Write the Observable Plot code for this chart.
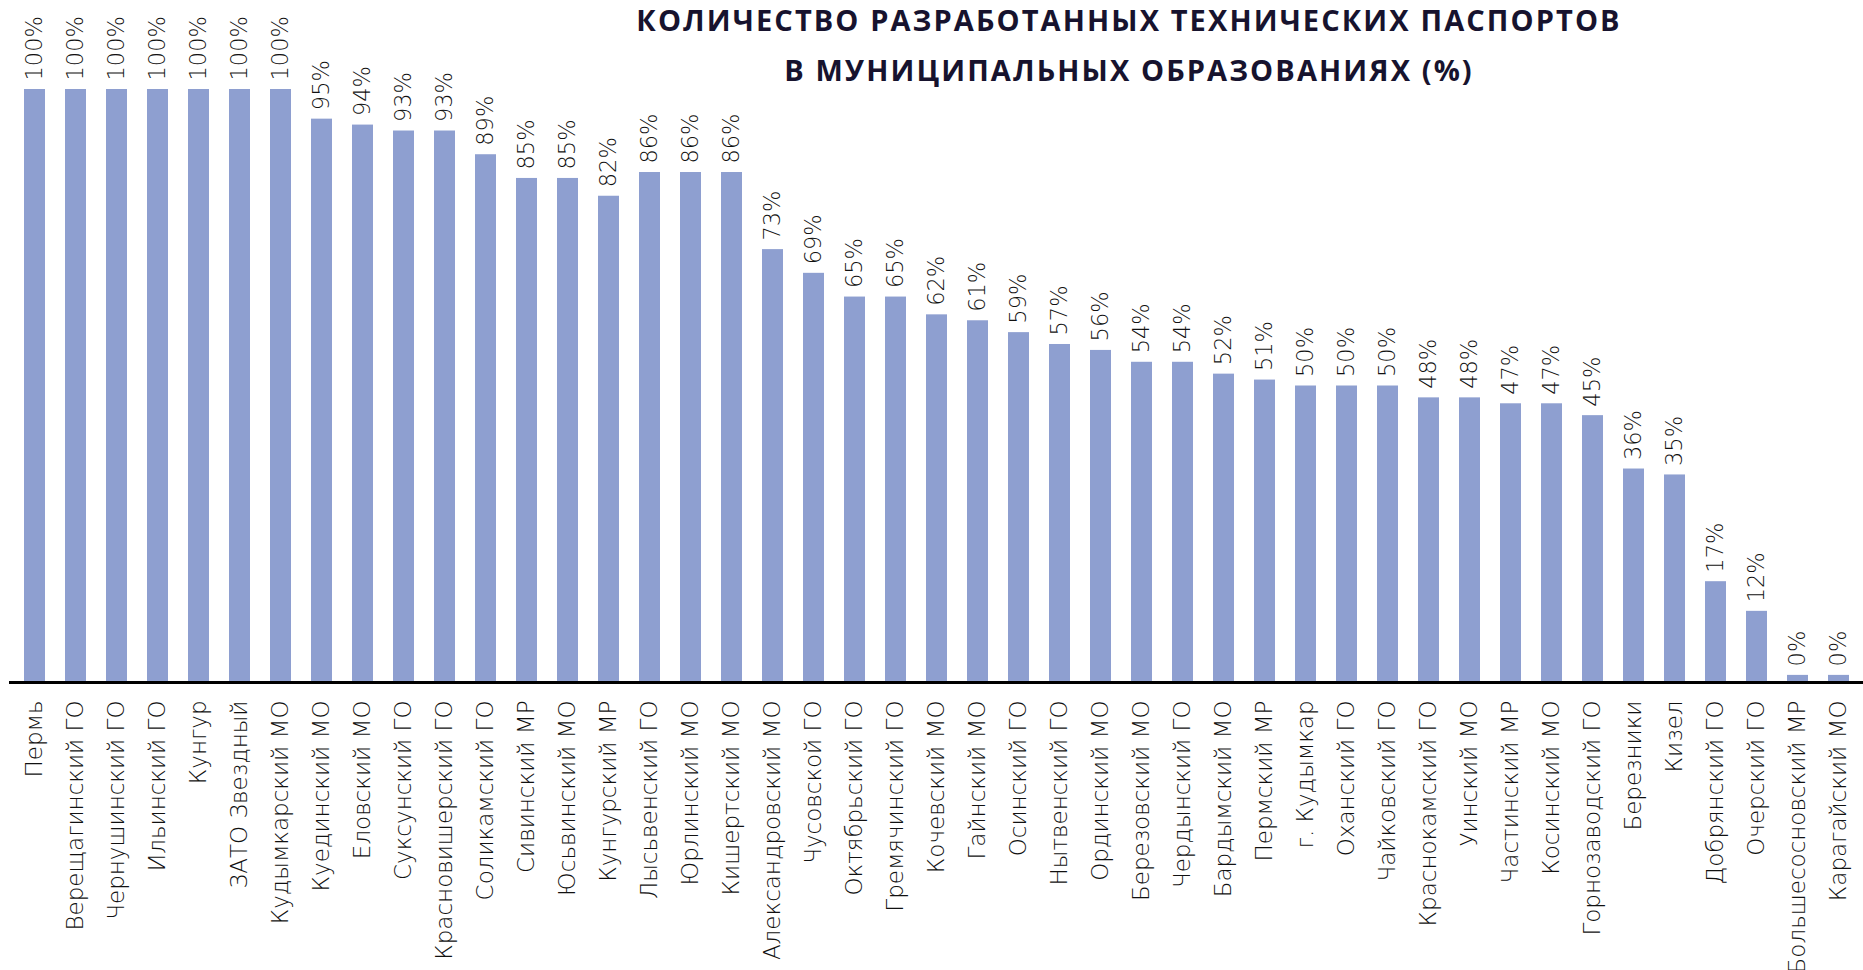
<!DOCTYPE html>
<html>
<head>
<meta charset="utf-8">
<script src="https://cdn.jsdelivr.net/npm/d3@7"></script>
<script src="https://cdn.jsdelivr.net/npm/@observablehq/plot@0.6"></script>
<style>
  html, body { margin: 0; padding: 0; background: #fff; }
  #wrap { position: relative; width: 1863px; height: 970px; }
  #title {
    position: absolute; top: -5px; left: 629px; width: 1000px;
    text-align: center; font-family: "Open Sans", sans-serif; font-weight: 700;
    font-size: 29px; line-height: 50px; letter-spacing: 2.1px; color: #17132e;
  }
</style>
</head>
<body>
<div id="wrap">
  <div id="chart"></div>
  <div id="title">КОЛИЧЕСТВО РАЗРАБОТАННЫХ ТЕХНИЧЕСКИХ ПАСПОРТОВ<br>В МУНИЦИПАЛЬНЫХ ОБРАЗОВАНИЯХ (%)</div>
</div>
<script>
const categories = [
  "Пермь", "Верещагинский ГО", "Чернушинский ГО", "Ильинский ГО", "Кунгур",
  "ЗАТО Звездный", "Кудымкарский МО", "Куединский МО", "Еловский МО", "Суксунский ГО",
  "Красновишерский ГО", "Соликамский ГО", "Сивинский МР", "Юсьвинский МО", "Кунгурский МР",
  "Лысьвенский ГО", "Юрлинский МО", "Кишертский МО", "Александровский МО", "Чусовской ГО",
  "Октябрьский ГО", "Гремячинский ГО", "Кочевский МО", "Гайнский МО", "Осинский ГО",
  "Нытвенский ГО", "Ординский МО", "Березовский МО", "Чердынский ГО", "Бардымский МО",
  "Пермский МР", "г. Кудымкар", "Оханский ГО", "Чайковский ГО", "Краснокамский ГО",
  "Уинский МО", "Частинский МР", "Косинский МО", "Горнозаводский ГО", "Березники",
  "Кизел", "Добрянский ГО", "Очерский ГО", "Большесосновский МР", "Карагайский МО"
];
// bar lengths (%)
const values = [
  100, 100, 100, 100, 100,
  100, 100, 95, 94, 93,
  93, 89, 85, 85, 82,
  86, 86, 86, 73, 69,
  65, 65, 62, 61, 59,
  57, 56, 54, 54, 52,
  51, 50, 50, 50, 48,
  48, 47, 47, 45, 36,
  35, 17, 12, 1.2, 1.2
];
// printed data labels
const valueLabels = [
  "100%", "100%", "100%", "100%", "100%",
  "100%", "100%", "95%", "94%", "93%",
  "93%", "89%", "85%", "85%", "82%",
  "86%", "86%", "86%", "73%", "69%",
  "65%", "65%", "62%", "61%", "59%",
  "57%", "56%", "54%", "54%", "52%",
  "51%", "50%", "50%", "50%", "48%",
  "48%", "47%", "47%", "45%", "36%",
  "35%", "17%", "12%", "0%", "0%"
];

const data = categories.map((name, i) => ({name, value: values[i], label: valueLabels[i]}));

const chart = Plot.plot({
  width: 1863,
  height: 970,
  marginTop: 89,
  marginBottom: 288,
  marginLeft: 9,
  marginRight: 0,
  style: {fontFamily: "'DejaVu Sans', sans-serif", background: "white", overflow: "visible"},
  x: {domain: categories, paddingInner: 0.5, paddingOuter: 0.25},
  y: {domain: [0, 100], axis: null},
  marks: [
    Plot.barY(data, {x: "name", y: "value", fill: "#8e9fd0"}),
    Plot.ruleY([0], {stroke: "#000", strokeWidth: 3}),
    Plot.text(data, {x: "name", y: "value", text: "label", rotate: -90, textAnchor: "start",
      dy: -9, fontSize: 22.5, fontWeight: 200, fill: "#111"}),
    Plot.axisX({tickSize: 0, tickPadding: 18, tickRotate: -90, fontSize: 23, fontWeight: 200,
      fill: "#111", label: null})
  ]
});
document.getElementById("chart").appendChild(chart);
</script>
</body>
</html>
